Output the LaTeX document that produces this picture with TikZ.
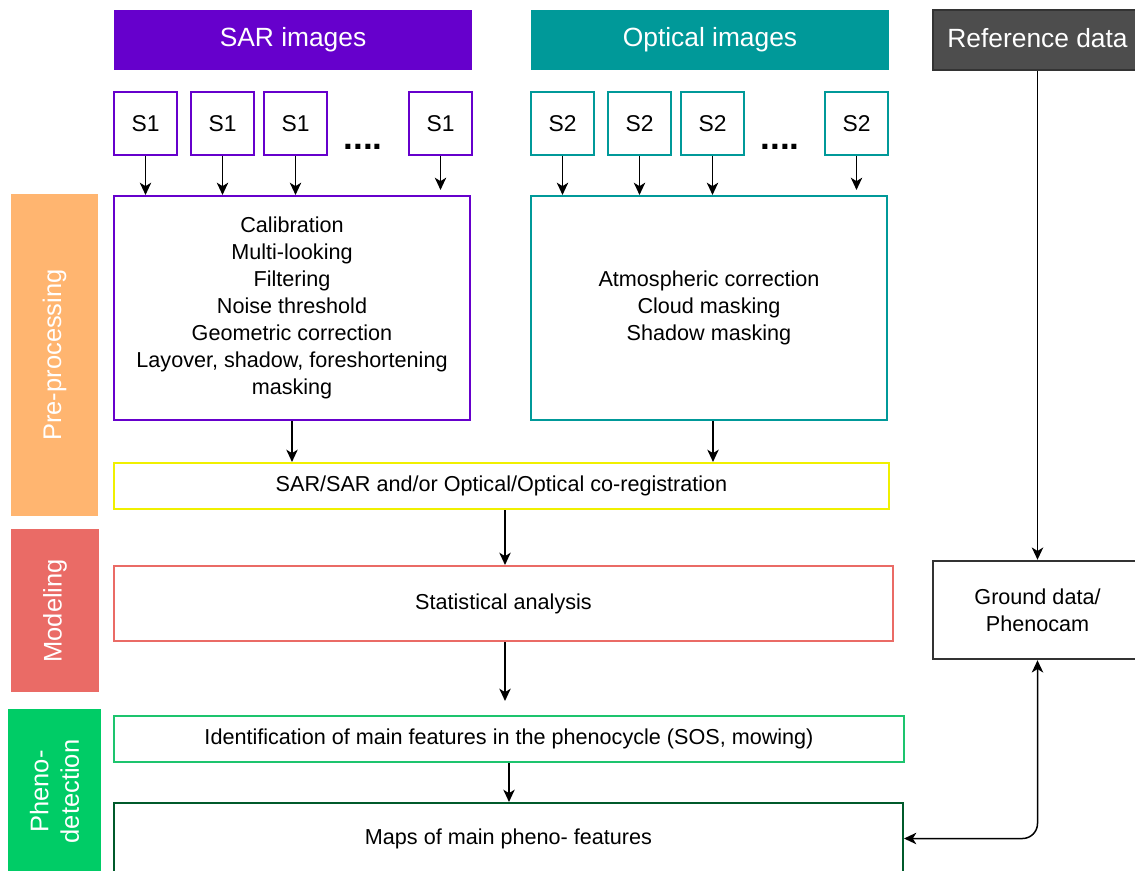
\documentclass[tikz,border=0pt]{standalone}
\usepackage{fontspec}
\setmainfont{Liberation Sans}
\usepackage{xcolor}
\usetikzlibrary{arrows.meta,positioning,calc}

\definecolor{sarcol}{HTML}{6600CC}
\definecolor{optcol}{HTML}{009999}
\definecolor{refcol}{HTML}{4D4D4D}
\definecolor{precol}{HTML}{FFB570}
\definecolor{modcol}{HTML}{EA6B66}
\definecolor{phencol}{HTML}{00CC66}
\definecolor{identcol}{HTML}{1DC46E}
\definecolor{mapcol}{HTML}{005A2B}
\definecolor{coregcol}{HTML}{F0F000}

\begin{document}
\begin{tikzpicture}[x=0.02cm, y=-0.02cm, >={Stealth[length=7pt,width=6.5pt,inset=2pt]},
  head node/.style={rectangle,text=white,font=\fontsize{15}{18}\selectfont,minimum height=1.2cm,inner sep=0pt},
  img node/.style={rectangle,draw,line width=1.3pt,fill=white,minimum size=1.26cm,font=\fontsize{13}{15}\selectfont,inner sep=0pt},
  proc node/.style={rectangle,draw,line width=1.2pt,font=\fontsize{12.3}{15.4}\selectfont,align=center,inner sep=0pt},
  side node/.style={rectangle,rotate=90,text=white,font=\fontsize{14.5}{17.4}\selectfont,align=center,inner sep=0pt},
  flow/.style={->,line width=0.85pt,black}]
\useasboundingbox (0,0) rectangle (1135,871);
% headers
\node[head node, fill=sarcol, minimum width=7.16cm] (sar) at (293,40) {SAR images};
\node[head node, fill=optcol, minimum width=7.16cm] (opt) at (710,40) {Optical images};
\node[head node, fill=refcol, draw=black!80, line width=1pt, minimum width=4.18cm, text depth=0.5ex] (ref) at (1037.5,40) {Reference data};
% image tiles
\node[img node, draw=sarcol] (s1a) at (145.5,123.5) {S1};
\node[img node, draw=sarcol] (s1b) at (222.5,123.5) {S1};
\node[img node, draw=sarcol] (s1c) at (295.5,123.5) {S1};
\node[img node, draw=sarcol] (s1d) at (440.5,123.5) {S1};
\node[anchor=base, font=\fontsize{20}{24}\selectfont\bfseries] (dots1) at (363,150) {....};
\node[img node, draw=optcol] (s2a) at (562.5,123.5) {S2};
\node[img node, draw=optcol] (s2b) at (639.5,123.5) {S2};
\node[img node, draw=optcol] (s2c) at (712.5,123.5) {S2};
\node[img node, draw=optcol] (s2d) at (856.5,123.5) {S2};
\node[anchor=base, font=\fontsize{20}{24}\selectfont\bfseries] (dots2) at (780,150) {....};
% processing chain
\node[proc node, draw=sarcol, minimum width=7.12cm, minimum height=4.48cm] (sarproc) at (292,308)
  {Calibration\\Multi-looking\\Filtering\\Noise threshold\\Geometric correction\\Layover, shadow, foreshortening\\masking};
\node[proc node, draw=optcol, minimum width=7.12cm, minimum height=4.48cm] (optproc) at (709,308)
  {Atmospheric correction\\Cloud masking\\Shadow masking};
\node[proc node, draw=coregcol, minimum width=15.5cm, minimum height=0.92cm] (coreg) at (501.5,486)
  {SAR/SAR and/or Optical/Optical co-registration};
\node[proc node, draw=modcol, minimum width=15.58cm, minimum height=1.5cm] (stat) at (503.5,603.5)
  {Statistical analysis};
\node[proc node, draw=identcol, minimum width=15.8cm, minimum height=0.92cm] (ident) at (509,739)
  {Identification of main features in the phenocycle (SOS, mowing)};
\node[proc node, draw=mapcol, minimum width=15.78cm, minimum height=1.42cm] (maps) at (508.5,838.5)
  {Maps of main pheno- features};
\node[proc node, draw=black!80, line width=1.4pt, minimum width=4.18cm, minimum height=1.96cm] (ground) at (1037.5,610)
  {Ground data/\\Phenocam};
% side labels
\node[side node, fill=precol, minimum width=6.44cm, minimum height=1.74cm] (pre) at (54.5,355) {Pre-processing};
\node[side node, fill=modcol, minimum width=3.26cm, minimum height=1.76cm] (model) at (55,610.8) {Modeling};
\node[side node, fill=phencol, minimum width=3.3cm, minimum height=1.85cm] (pheno) at (54.5,791.5) {Pheno-\\detection};
% connectors
\draw[flow] (s1a) -- (s1a |- sarproc.north);
\draw[flow] (s1b) -- (s1b |- sarproc.north);
\draw[flow] (s1c) -- (s1c |- sarproc.north);
\draw[flow, shorten >=0.1cm] (s1d) -- (s1d |- sarproc.north);
\draw[flow] (s2a) -- (s2a |- optproc.north);
\draw[flow] (s2b) -- (s2b |- optproc.north);
\draw[flow] (s2c) -- (s2c |- optproc.north);
\draw[flow, shorten >=0.1cm] (s2d) -- (s2d |- optproc.north);
\draw[flow] (sarproc) -- (sarproc |- coreg.north);
\draw[flow] ($(optproc.south)+(4,0)$) -- ($(optproc.south |- coreg.north)+(4,0)$);
\draw[flow] ($(coreg.south)+(3.5,0)$) -- ($(coreg.south |- stat.north)+(3.5,0)$);
\draw[flow, shorten >=0.28cm] ($(stat.south)+(1.5,0)$) -- ($(stat.south |- ident.north)+(1.5,0)$);
\draw[flow] (ident) -- (ident |- maps.north);
\draw[flow] (ref) -- (ground);
\draw[flow, <->, rounded corners=0.3cm] (ground.south) |- (maps.east);
\end{tikzpicture}
\end{document}
